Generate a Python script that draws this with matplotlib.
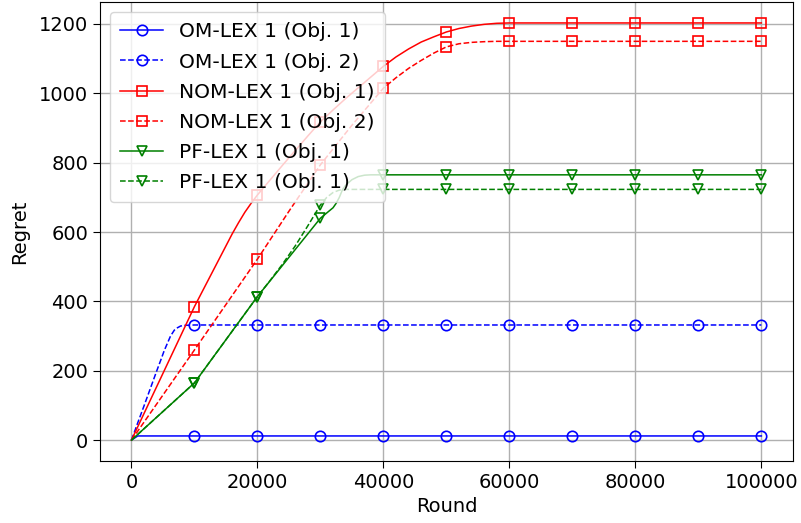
import matplotlib
matplotlib.use("Agg")
import matplotlib.pyplot as plt
import numpy as np

# ---- data ----
plateau = [40000, 50000, 60000, 70000, 80000, 90000, 100000]

om1_x = [0, 1000, 10000, 20000, 30000] + plateau
om1_y = [0, 12, 12, 12, 12] + [12] * 7

om2_x = [0, 1000, 2000, 3000, 4000, 4700, 5200, 5700, 6200, 6800, 7300, 7800, 8500,
         10000, 20000, 30000] + plateau
om2_y = [0, 50, 99, 149, 199, 233, 258, 279, 300, 317, 324, 329, 331,
         332, 332, 332] + [332] * 7

nom1_x = [0, 10000, 12000, 14000, 16000, 17000, 18000, 19000, 20000, 22000, 24000,
          26000, 28000, 30000, 32000, 34000, 36000, 38000, 40000, 42000, 44000,
          46000, 48000, 50000, 52000, 54000, 56000, 58000, 60000,
          70000, 80000, 90000, 100000]
nom1_y = [0, 385, 455, 525, 595, 627, 657, 683, 707, 750, 793,
          835, 877, 918, 952, 985, 1016, 1047, 1078, 1105, 1128,
          1148, 1163, 1177, 1187, 1194, 1199, 1202, 1203,
          1203, 1203, 1203, 1203]

nom2_x = [0, 10000, 20000, 25000, 30000, 35000, 40000, 42000, 44000, 46000, 48000,
          50000, 52000, 54000, 56000, 58000, 60000, 70000, 80000, 90000, 100000]
nom2_y = [0, 260, 522, 660, 794, 908, 1015, 1045, 1072, 1095, 1116,
          1134, 1143, 1147, 1149, 1150, 1150, 1150, 1150, 1150, 1150]

pf1_x = [0, 10000, 20000, 30000, 31000, 32000, 32500, 33000, 33500, 34000, 35000,
         36000, 37000, 38000] + plateau
pf1_y = [0, 165, 414, 640, 655, 670, 683, 700, 722, 735, 751,
         760, 764, 765] + [765] * 7

pf2_x = [0, 10000, 20000, 22000, 24000, 26000, 28000, 30000, 31000, 32000, 33000,
         34000] + plateau
pf2_y = [0, 165, 414, 460, 508, 560, 618, 678, 700, 714, 721,
         723] + [723] * 7

series = [
    ("OM-LEX 1 (Obj. 1)", om1_x, om1_y, "blue", "-", "o"),
    ("OM-LEX 1 (Obj. 2)", om2_x, om2_y, "blue", "--", "o"),
    ("NOM-LEX 1 (Obj. 1)", nom1_x, nom1_y, "red", "-", "s"),
    ("NOM-LEX 1 (Obj. 2)", nom2_x, nom2_y, "red", "--", "s"),
    ("PF-LEX 1 (Obj. 1)", pf1_x, pf1_y, "green", "-", "v"),
    ("PF-LEX 1 (Obj. 1)", pf2_x, pf2_y, "green", "--", "v"),
]

plt.rcParams['font.family'] = ['DejaVu Sans']
fig = plt.figure(figsize=(8.01, 5.23), dpi=100)
ax = fig.add_axes([0.1248, 0.1186, 0.865, 0.8774])

for label, xs, ys, color, ls, mk in series:
    idx = [i for i, x in enumerate(xs) if x > 0 and x % 10000 == 0]
    ax.plot(xs, ys, color=color, linestyle=ls, linewidth=1.1, marker=mk,
            markevery=idx, markersize=7.5, markerfacecolor='none',
            markeredgewidth=1.2, label=label)

ax.set_xlabel("Round", fontsize=14)
ax.set_ylabel("Regret", fontsize=14, labelpad=7)
ax.tick_params(labelsize=14, length=5)
ax.set_xticks([0, 20000, 40000, 60000, 80000, 100000])
ax.set_yticks([0, 200, 400, 600, 800, 1000, 1200])
ax.grid(True, color='#b0b0b0', linewidth=1.0)
ax.set_axisbelow(True)
ax.legend(loc='upper left', fontsize=14.6, framealpha=0.8, handlelength=2.1,
          borderpad=0.5, labelspacing=0.55)

fig.savefig("out.png", dpi=100)
